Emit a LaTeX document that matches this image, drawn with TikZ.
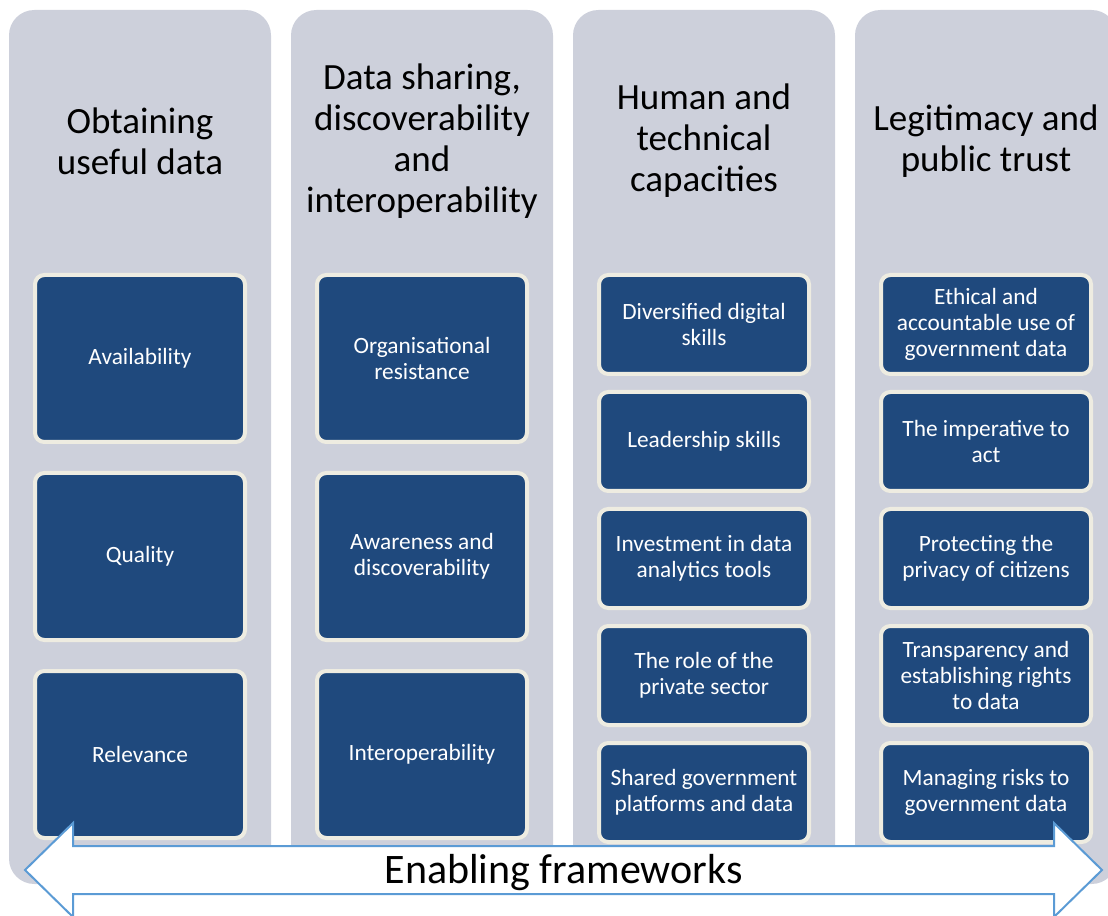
\documentclass[tikz,border=0pt]{standalone}
\usepackage{fontspec}
\setmainfont{Carlito}
\usetikzlibrary{positioning}
\definecolor{pillargray}{HTML}{CDD0DB}
\definecolor{itemblue}{HTML}{1F497D}
\definecolor{itemrim}{HTML}{EEECE1}
\definecolor{framingblue}{HTML}{5B9BD5}

\begin{document}
\begin{tikzpicture}[x=0.75pt,y=-0.75pt,
         pillar/.style = {fill=pillargray, rounded corners=19pt, inner sep=0pt,
         minimum width=196.5pt, minimum height=655.5pt},
         heading/.style = {align=center, font=\fontsize{27.75}{30.75}\selectfont},
         item/.style = {fill=itemblue, draw=itemrim, line width=3pt,
         rounded corners=7pt, text=white, align=center,
         font=\fontsize{17.5}{19.5}\selectfont, minimum width=157.5pt},
         tallitem/.style = {item, minimum height=125.25pt},
         shortitem/.style = {item, minimum height=74.25pt},
         framing/.style = {draw=framingblue, fill=white, line width=1.5pt, line join=miter}
]
      \clip (0,0) rectangle (1108,916);

      % the four pillars
      \node[pillar] (p1) at (140,447) {};
      \node[pillar] (p2) at (422,447) {};
      \node[pillar] (p3) at (704,447) {};
      \node[pillar] (p4) at (986,447) {};

      \node[heading] (h1) at (140,141) {Obtaining\\useful data};
      \node[heading] (h2) at (422,141) {Data sharing,\\discoverability\\and\\interoperability};
      \node[heading] (h3) at (704,141) {Human and\\technical\\capacities};
      \node[heading] (h4) at (986,141) {Legitimacy and\\public trust};

      % obtaining useful data
      \node[tallitem] (a1) at (140,358.5) {Availability};
      \node[tallitem, below = 20.25pt of a1] (a2) {Quality};
      \node[tallitem, below = 20.25pt of a2] (a3) {Relevance};

      % data sharing
      \node[tallitem] (b1) at (422,358.5) {Organisational\\resistance};
      \node[tallitem, below = 20.25pt of b1] (b2) {Awareness and\\discoverability};
      \node[tallitem, below = 20.25pt of b2] (b3) {Interoperability};

      % capacities
      \node[shortitem] (c1) at (704,324.5) {Diversified digital\\skills};
      \node[shortitem, below = 10.5pt of c1] (c2) {Leadership skills};
      \node[shortitem, below = 10.5pt of c2] (c3) {Investment in data\\analytics tools};
      \node[shortitem, below = 10.5pt of c3] (c4) {The role of the\\private sector};
      \node[shortitem, below = 10.5pt of c4] (c5) {Shared government\\platforms and data};

      % legitimacy
      \node[shortitem] (d1) at (986,324.5) {Ethical and\\accountable use of\\government data};
      \node[shortitem, below = 10.5pt of d1] (d2) {The imperative to\\act};
      \node[shortitem, below = 10.5pt of d2] (d3) {Protecting the\\privacy of citizens};
      \node[shortitem, below = 10.5pt of d3] (d4) {Transparency and\\establishing rights\\to data};
      \node[shortitem, below = 10.5pt of d4] (d5) {Managing risks to\\government data};

      % enabling frameworks arrow
      \draw[framing] (25,870) -- (73,823) -- (73,846) -- (1054,846) -- (1054,823)
      -- (1102,870) -- (1054,917) -- (1054,894) -- (73,894) -- (73,917) -- cycle;
      \node[font=\fontsize{31.5}{34}\selectfont] (ef) at (563.5,873) {Enabling frameworks};

   \end{tikzpicture}
\end{document}
